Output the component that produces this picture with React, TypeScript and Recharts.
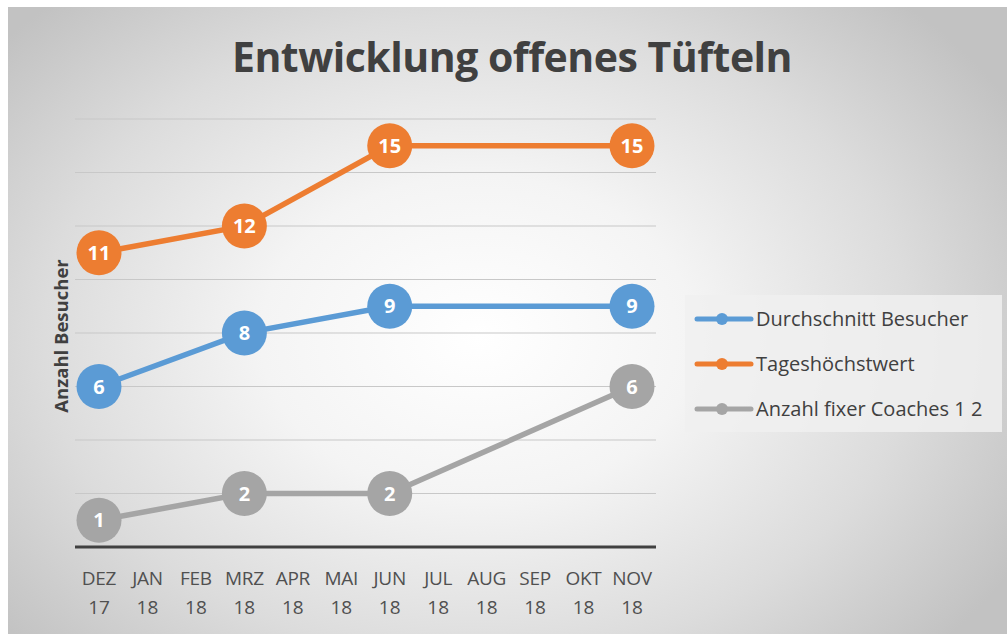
import React from "react";
import { LineChart, Line, XAxis, YAxis, CartesianGrid, LabelList } from "recharts";

const months = ["DEZ", "JAN", "FEB", "MRZ", "APR", "MAI", "JUN", "JUL", "AUG", "SEP", "OKT", "NOV"];
const years = ["17", "18", "18", "18", "18", "18", "18", "18", "18", "18", "18", "18"];
const durchschnitt = [6, null, null, 8, null, null, 9, null, null, null, null, 9];
const tageshoechst = [11, null, null, 12, null, null, 15, null, null, null, null, 15];
const coaches = [1, null, null, 2, null, null, 2, null, null, null, null, 6];
const yTicks = [0, 2, 4, 6, 8, 10, 12, 14, 16];

const series = [
  { key: "durchschnitt", name: "Durchschnitt Besucher", color: "#5b9bd5" },
  { key: "tageshoechst", name: "Tageshöchstwert", color: "#ed7d31" },
  { key: "coaches", name: "Anzahl fixer Coaches 1 2", color: "#a5a5a5" },
];

const data = months.map((m, i) => ({
  month: m,
  year: years[i],
  label: i,
  durchschnitt: durchschnitt[i],
  tageshoechst: tageshoechst[i],
  coaches: coaches[i],
}));

const FONT = "'Open Sans', 'Noto Sans', sans-serif";

const MonthTick = (props: any) => {
  const { x, y, payload } = props;
  const i = payload.value as number;
  return (
    <g transform={`translate(${x},${y})`}>
      <text x={0} y={30} textAnchor="middle" fill="#505050" fontSize={19} fontFamily={FONT} letterSpacing={-0.3}>
        {months[i]}
      </text>
      <text x={0} y={59} textAnchor="middle" fill="#505050" fontSize={19} fontFamily={FONT}>
        {years[i]}
      </text>
    </g>
  );
};

const DotLabel = (props: any) => {
  const { x, y, value } = props;
  if (value === null || value === undefined) return null;
  return (
    <text x={x} y={y} dy={7} textAnchor="middle" fill="#ffffff" fontSize={20} fontWeight="bold" fontFamily={FONT}>
      {value}
    </text>
  );
};

export default function App() {
  return (
    <div style={{ position: "absolute", left: 0, top: 0, width: 1007, height: 634, background: "#ffffff" }}>
      <div
        style={{
          position: "absolute",
          left: 8,
          top: 7,
          width: 999,
          height: 627,
          background: "radial-gradient(ellipse 620px 460px at 470px 330px, #ffffff 0%, #f4f4f4 35%, #dcdcdc 70%, #c2c2c2 100%)",
        }}
      />
      <div
        style={{
          position: "absolute",
          left: 0,
          top: 28,
          width: 1024,
          textAlign: "center",
          fontFamily: FONT,
          fontWeight: "bold",
          fontSize: 41,
          color: "#404040",
          letterSpacing: -0.5,
        }}
      >
        Entwicklung offenes Tüfteln
      </div>
      <div
        style={{
          position: "absolute",
          left: 60,
          top: 336,
          transform: "translate(-50%, -50%) rotate(-90deg)",
          fontFamily: FONT,
          fontWeight: "bold",
          fontSize: 18.5,
          color: "#404040",
          whiteSpace: "nowrap",
        }}
      >
        Anzahl Besucher
      </div>
      <div
        style={{
          position: "absolute",
          left: 685,
          top: 295,
          width: 317,
          height: 137,
          background: "rgba(240,240,240,0.85)",
          boxSizing: "border-box",
          paddingTop: 1,
        }}
      >
        {series.map((s) => (
          <div key={s.key} style={{ display: "flex", alignItems: "center", height: 45, paddingLeft: 9 }}>
            <svg width={60} height={14} style={{ marginRight: 2, flexShrink: 0 }}>
              <line x1={3} y1={7} x2={57} y2={7} stroke={s.color} strokeWidth={5} strokeLinecap="round" />
              <circle cx={28} cy={7} r={6} fill={s.color} />
            </svg>
            <span style={{ fontFamily: FONT, fontSize: 20, color: "#404040", whiteSpace: "nowrap" }}>{s.name}</span>
          </div>
        ))}
      </div>
      <div style={{ position: "absolute", left: 0, top: 0 }}>
        <LineChart width={1007} height={634} data={data} margin={{ top: 119, right: 351, bottom: 0, left: 75 }}>
          <CartesianGrid horizontal={true} vertical={false} stroke="#c8c8c8" strokeWidth={1.2} />
          <XAxis
            dataKey="label"
            type="category"
            tick={<MonthTick />}
            tickLine={false}
            axisLine={{ stroke: "#404040", strokeWidth: 3 }}
            interval={0}
            height={87}
            padding={{ left: 24, right: 24 }}
          />
          <YAxis hide domain={[0, 16]} ticks={yTicks} type="number" width={0} />
          {series.map((s) => (
            <Line
              key={s.key}
              dataKey={s.key}
              name={s.name}
              stroke={s.color}
              strokeWidth={5.5}
              connectNulls
              isAnimationActive={false}
              dot={{ r: 22.5, fill: s.color, stroke: "none" }}
              activeDot={false}
            >
              <LabelList dataKey={s.key} content={<DotLabel />} />
            </Line>
          ))}
        </LineChart>
      </div>
    </div>
  );
}
